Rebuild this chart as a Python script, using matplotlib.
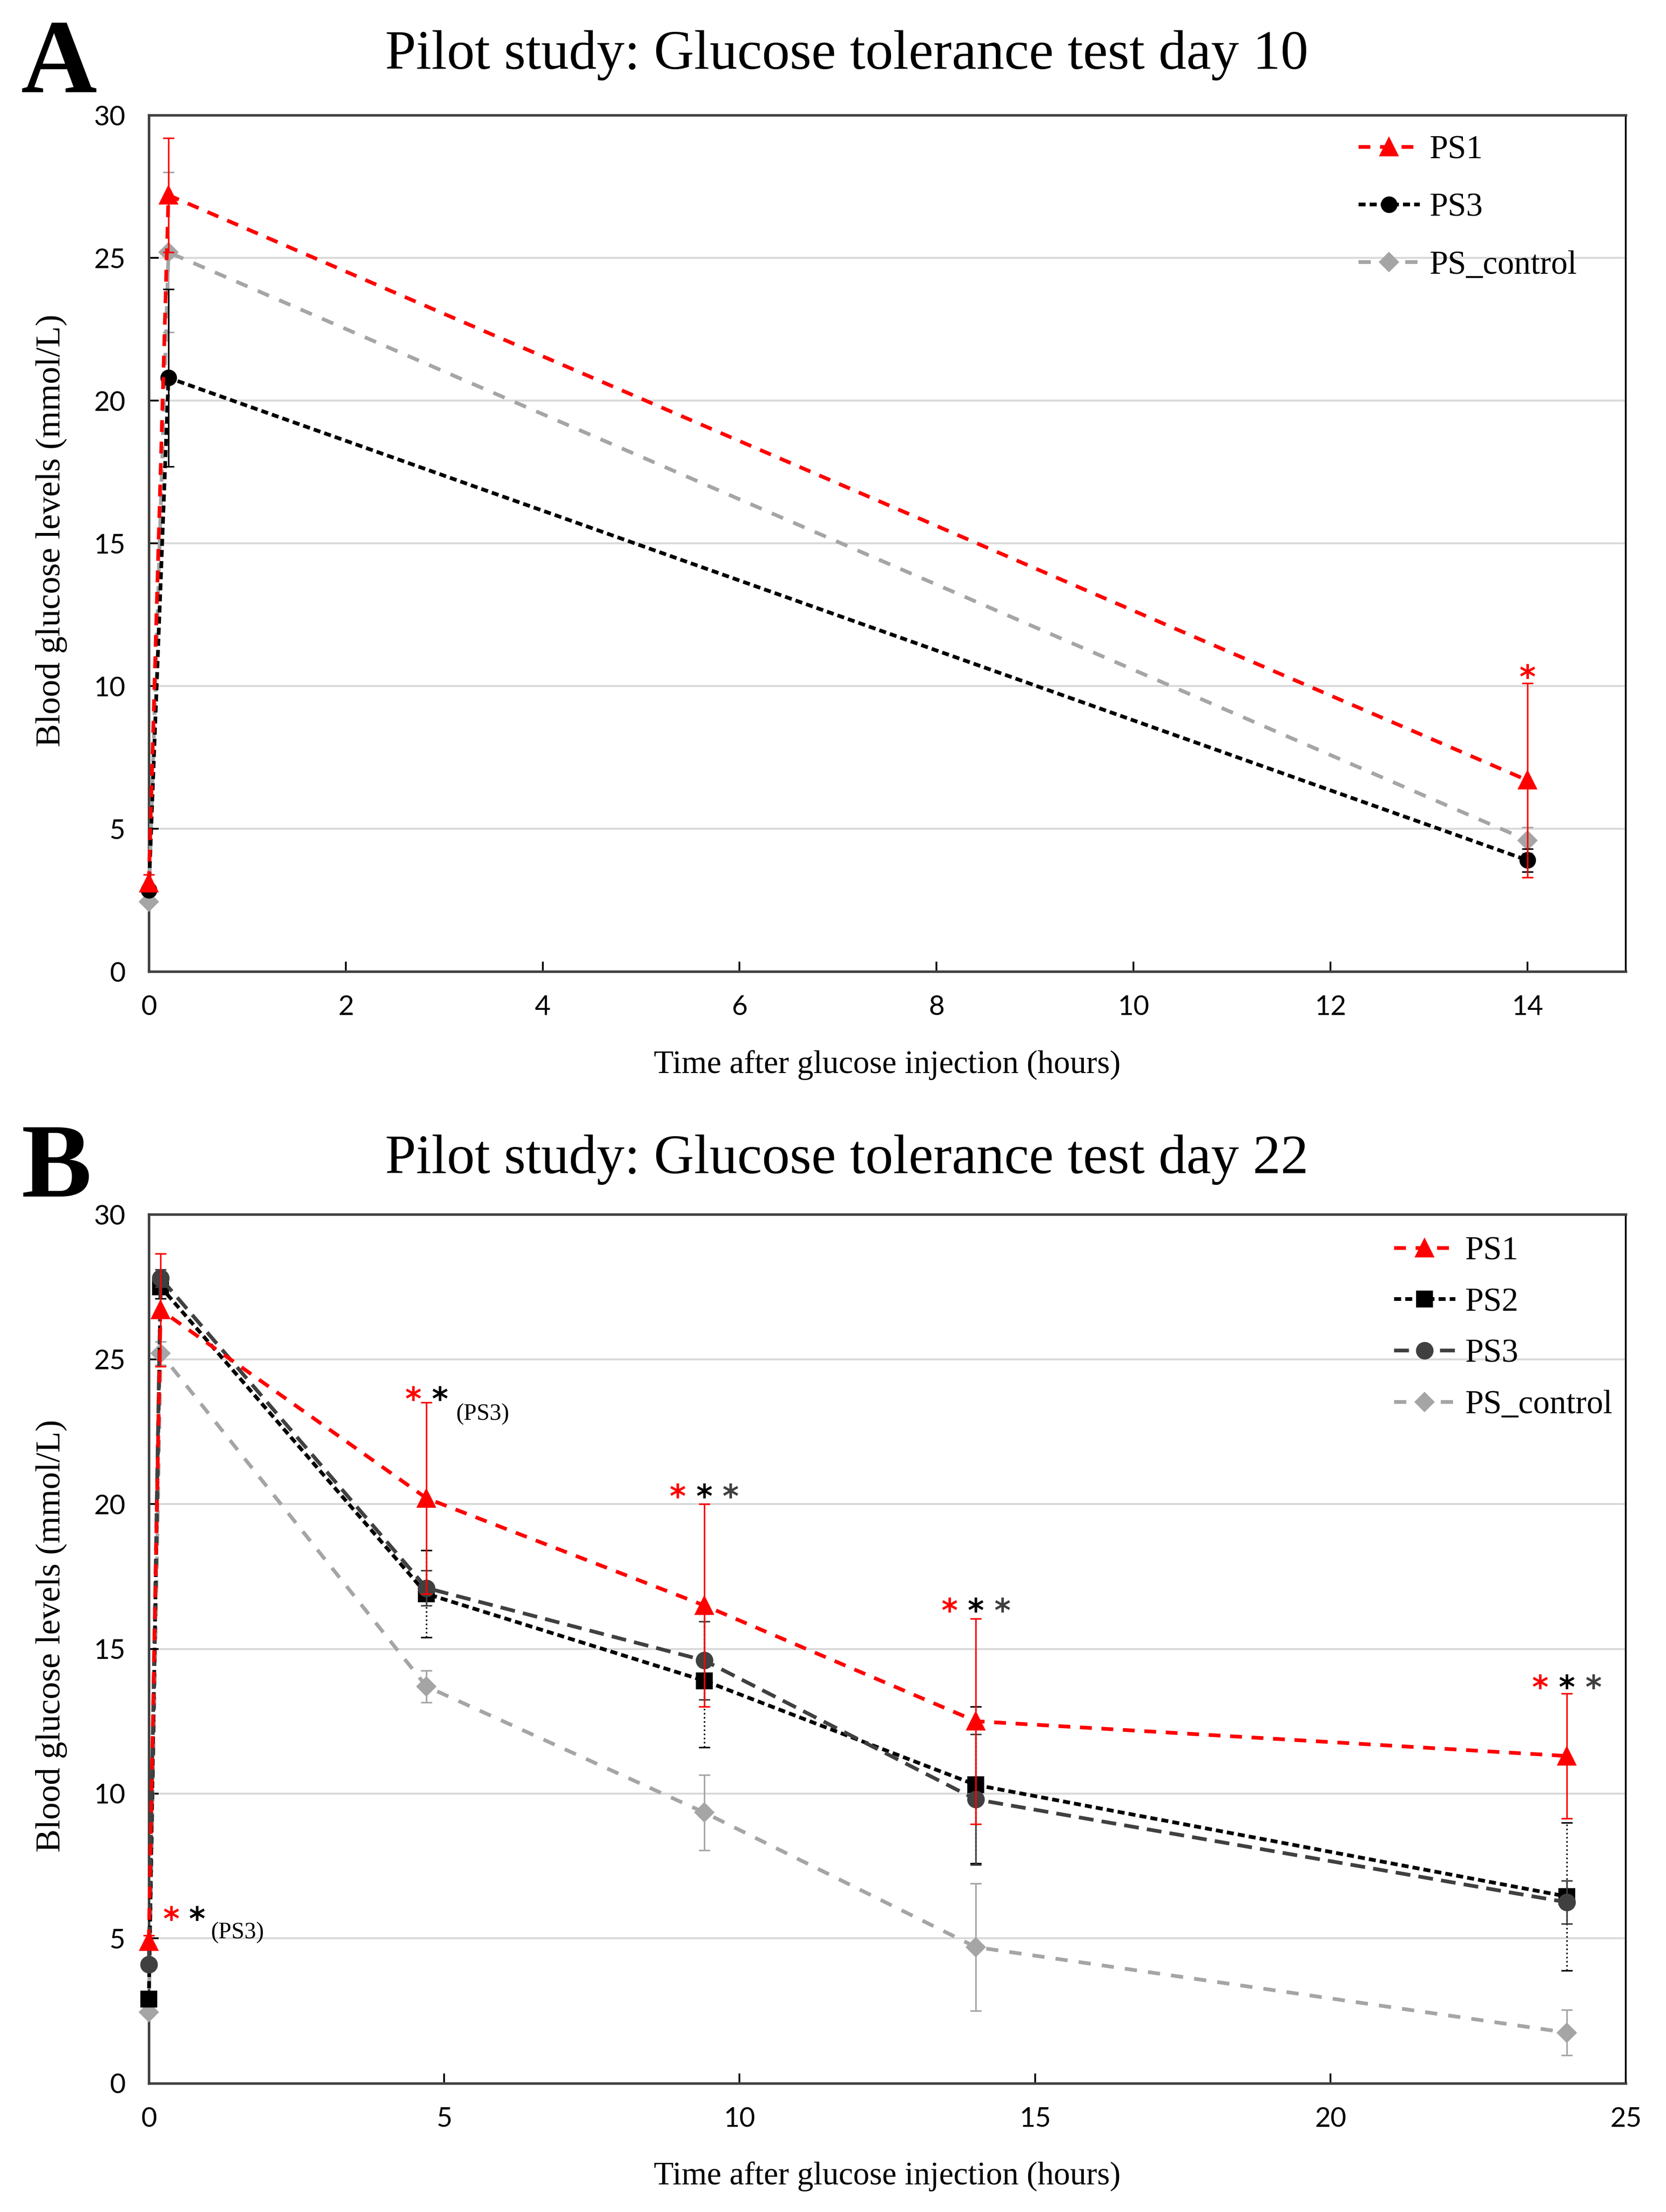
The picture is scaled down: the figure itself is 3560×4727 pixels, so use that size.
"""Pilot study glucose tolerance tests, day 10 (A) and day 22 (B)."""

import matplotlib

matplotlib.use("Agg")
import matplotlib.pyplot as plt

SERIF = "Liberation Serif"
SANS = "Lato"

RED = "#FF0000"
BLACK = "#000000"
DARK = "#404040"
GREY = "#A5A5A5"

# panel A: day 10
time_a = [0, 0.2, 14]
ps1_a = [3.1, 27.2, 6.7]
ps1_a_err = [0.3, 2.0, 3.4]
ps3_a = [2.85, 20.8, 3.9]
ps3_a_err = [0.1, 3.1, 0.4]
ctrl_a = [2.45, 25.2, 4.6]
ctrl_a_err = [0.1, 2.8, 0.45]

# panel B: day 22
time_b = [0, 0.2, 4.7, 9.4, 14, 24]
ps1_b = [4.9, 26.7, 20.2, 16.5, 12.5, 11.3]
ps1_b_err = [0.2, 1.95, 3.3, 3.5, 3.55, 2.15]
ps2_b = [2.9, 27.5, 16.9, 13.9, 10.3, 6.45]
ps2_b_err = [0.15, 0.4, 1.5, 2.3, 2.7, 2.55]
ps3_b = [4.1, 27.8, 17.1, 14.6, 9.8, 6.25]
ps3_b_err = [0.2, 0.3, 0.6, 1.35, 2.25, 0.75]
ctrl_b = [2.45, 25.2, 13.7, 9.35, 4.7, 1.75]
ctrl_b_err = [0.1, 0.4, 0.55, 1.3, 2.2, 0.78]

# significance marks: (x, y, text, colour)
stars_a = [(14, 10.6, "*", RED)]
stars_b = [
    (0.38, 5.95, "*", RED), (0.82, 5.95, "*", BLACK),
    (4.48, 23.9, "*", RED), (4.93, 23.9, "*", BLACK),
    (8.95, 20.55, "*", RED), (9.4, 20.55, "*", BLACK), (9.85, 20.55, "*", DARK),
    (13.55, 16.6, "*", RED), (14.0, 16.6, "*", BLACK), (14.45, 16.6, "*", DARK),
    (23.55, 13.95, "*", RED), (24.0, 13.95, "*", BLACK), (24.45, 13.95, "*", DARK),
]
notes_b = [(1.05, 5.2, "(PS3)"), (5.2, 23.1, "(PS3)")]


def draw_series(ax, x, y, err, label, color, marker, ms, dashes,
                err_style="-", z=3):
    eb = ax.errorbar(x, y, yerr=err, fmt="none", ecolor=color, elinewidth=0.8,
                     capsize=2.8, capthick=0.8, zorder=z)
    for coll in eb[2]:
        coll.set_linestyle(err_style)
        coll.set_clip_on(False)
    for cap in eb[1]:
        cap.set_clip_on(False)
    line, = ax.plot(x, y, color=color, lw=1.9, dashes=dashes, marker=marker,
                    ms=ms, mfc=color, mec=color, label=label, zorder=z + 1,
                    clip_on=False)
    return line


def style_axes(ax, xmax, xstep):
    ax.set_xlim(0, xmax)
    ax.set_ylim(0, 30)
    ax.set_xticks(range(0, xmax + 1, xstep))
    ax.set_yticks(range(0, 31, 5))
    ax.grid(axis="y", color="#D9D9D9", lw=1.0, zorder=0)
    ax.set_axisbelow(True)
    for side in ax.spines.values():
        side.set_color(DARK)
        side.set_linewidth(1.3)
    ax.spines["right"].set_linewidth(0.9)
    ax.spines["right"].set_color(BLACK)
    ax.tick_params(direction="in", length=5, width=0.9, colors=BLACK,
                   labelsize=14, pad=12)
    for lab in ax.get_xticklabels() + ax.get_yticklabels():
        lab.set_fontfamily(SANS)
    ax.set_xlabel("Time after glucose injection (hours)", family=SERIF,
                  fontsize=16.7)
    ax.set_ylabel("Blood glucose levels (mmol/L)", family=SERIF, fontsize=17.8)
    ax.xaxis.set_label_coords(0.5, -0.092)
    ax.yaxis.set_label_coords(-0.055, 0.515)


def add_stars(ax, stars):
    # the asterisk glyph sits high in its box, so nudge it down
    for x, y, s, c in stars:
        ax.text(x, y - 0.35, s, color=c, fontsize=16, fontweight="bold",
                family="DejaVu Sans", ha="center", va="center")


fig = plt.figure(figsize=(3561 / 300, 4727 / 300), dpi=300)

# ---- panel A ----
ax_a = fig.add_axes([0.0893, 0.5608, 0.8863, 0.3871])
h_ctrl = draw_series(ax_a, time_a, ctrl_a, ctrl_a_err, "PS_control", GREY, "D",
                     6.5, (3.3, 3.0), z=3)
h_ps3 = draw_series(ax_a, time_a, ps3_a, ps3_a_err, "PS3", BLACK, "o", 7.5,
                    (1.9, 1.1), z=5)
h_ps1 = draw_series(ax_a, time_a, ps1_a, ps1_a_err, "PS1", RED, "^", 8.5,
                    (3.2, 2.6), z=7)
style_axes(ax_a, 15, 2)
ax_a.set_xticks(range(0, 15, 2))
add_stars(ax_a, stars_a)
ax_a.legend(handles=[h_ps1, h_ps3, h_ctrl], loc="upper left",
            bbox_to_anchor=(0.819, 0.977), frameon=False, borderpad=0,
            borderaxespad=0, handlelength=1.85, handletextpad=0.3,
            labelspacing=0.82, prop={"family": SERIF, "size": 17})

# ---- panel B ----
ax_b = fig.add_axes([0.0893, 0.0582, 0.8863, 0.3928])
h_ctrl = draw_series(ax_b, time_b, ctrl_b, ctrl_b_err, "PS_control", GREY, "D",
                     6.5, (3.3, 3.0), z=3)
h_ps2 = draw_series(ax_b, time_b, ps2_b, ps2_b_err, "PS2", BLACK, "s", 7.5,
                    (1.9, 1.1), err_style=":", z=5)
h_ps3 = draw_series(ax_b, time_b, ps3_b, ps3_b_err, "PS3", DARK, "o", 8,
                    (4.0, 2.2), z=7)
h_ps1 = draw_series(ax_b, time_b, ps1_b, ps1_b_err, "PS1", RED, "^", 8.5,
                    (3.2, 2.6), z=9)
style_axes(ax_b, 25, 5)
ax_b.yaxis.set_label_coords(-0.055, 0.515)
ax_b.xaxis.set_label_coords(0.5, -0.090)
add_stars(ax_b, stars_b)
for x, y, s in notes_b:
    ax_b.text(x, y, s, fontsize=12, family=SERIF, ha="left", va="center")
ax_b.legend(handles=[h_ps1, h_ps2, h_ps3, h_ctrl], loc="upper left",
            bbox_to_anchor=(0.843, 0.975), frameon=False, borderpad=0,
            borderaxespad=0, handlelength=1.85, handletextpad=0.3,
            labelspacing=0.63, prop={"family": SERIF, "size": 17})

# titles and panel letters
fig.text(0.508, 1 - 147 / 4727, "Pilot study: Glucose tolerance test day 10",
         family=SERIF, fontsize=28.5, ha="center", va="baseline")
fig.text(0.508, 1 - 2507 / 4727, "Pilot study: Glucose tolerance test day 22",
         family=SERIF, fontsize=28.5, ha="center", va="baseline")
fig.text(0.0126, 1 - 197 / 4727, "A", family=SERIF, fontsize=54,
         fontweight="bold", ha="left", va="baseline")
fig.text(0.0126, 1 - 2557 / 4727, "B", family=SERIF, fontsize=54,
         fontweight="bold", ha="left", va="baseline")

fig.savefig("out.png", dpi=300)
plt.close(fig)
